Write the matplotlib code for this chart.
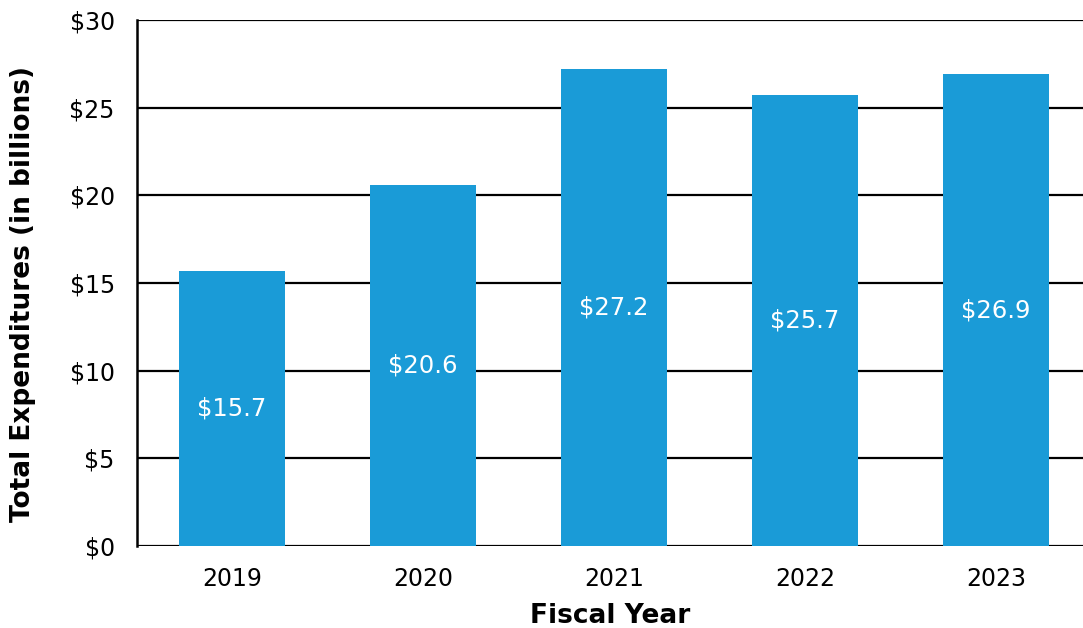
import matplotlib
matplotlib.use("Agg")
import matplotlib.pyplot as plt

years = ["2019", "2020", "2021", "2022", "2023"]
values = [15.7, 20.6, 27.2, 25.7, 26.9]
labels = ["$15.7", "$20.6", "$27.2", "$25.7", "$26.9"]
yticks = [0, 5, 10, 15, 20, 25, 30]
ytick_labels = ["$0", "$5", "$10", "$15", "$20", "$25", "$30"]

plt.rcParams['font.family'] = ['DejaVu Sans']
fig = plt.figure(figsize=(10.83, 6.28), dpi=100)
ax = fig.add_axes([137/1083, 82/628, 946/1083, 526/628])

x = list(range(len(years)))
ax.set_axisbelow(True)
for t in yticks:
    ax.axhline(t, color='black', lw=1.6, zorder=1)
bars = ax.bar(x, values, width=0.555, color='#1a9bd7', zorder=2)
for xi, v, lab in zip(x, values, labels):
    ax.text(xi, v / 2, lab, ha='center', va='center', color='white', fontsize=17.5, zorder=3)

ax.set_xlim(-0.497, 4.455)
ax.set_ylim(0, 30)
ax.set_yticks(yticks)
ax.set_yticklabels(ytick_labels, fontsize=17)
ax.set_xticks(x)
ax.set_xticklabels(years, fontsize=17)
ax.tick_params(axis='x', length=0, pad=15)
ax.tick_params(axis='y', length=0, pad=16)
for s in ['right', 'top', 'bottom']:
    ax.spines[s].set_visible(False)
ax.spines['left'].set_linewidth(1.8)
ax.set_xlabel("Fiscal Year", fontsize=19, fontweight='bold', labelpad=9)
ax.set_ylabel("Total Expenditures (in billions)", fontsize=19, fontweight='bold')
ax.yaxis.set_label_coords(-101/946, 0.48)
fig.savefig("out.png", dpi=100)
